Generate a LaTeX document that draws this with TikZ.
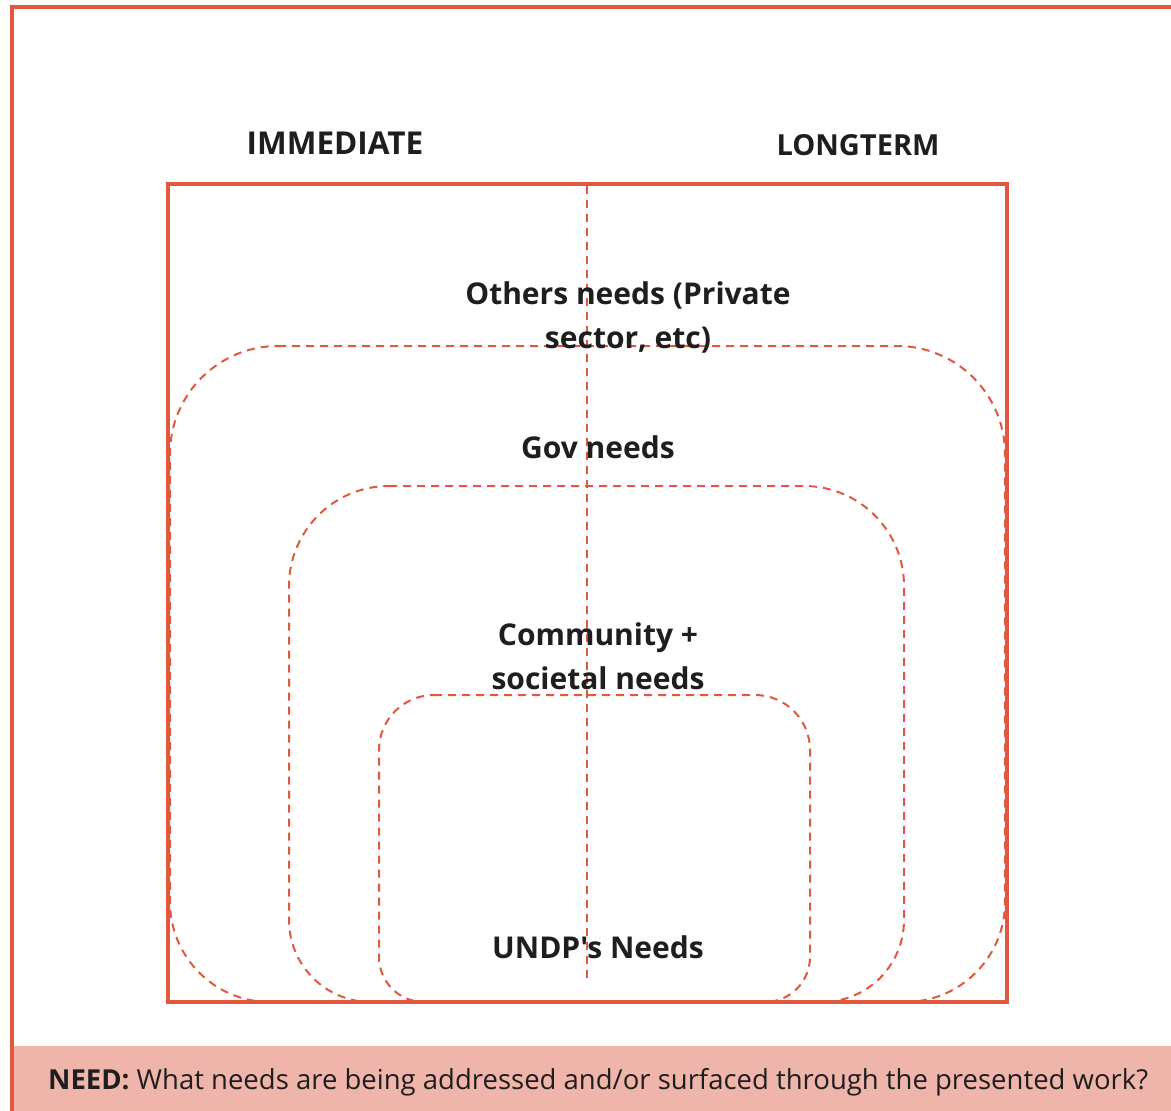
\documentclass[tikz,border=0pt]{standalone}
\usepackage{fontspec}
\setmainfont{Open Sans}[Ligatures=TeXOff]
\definecolor{undpred}{HTML}{E2583E}
\definecolor{bandpink}{HTML}{EFB5AA}
\definecolor{inkdark}{HTML}{1E1E1E}
\tikzset{
  frameline/.style={draw=undpred, line width=4pt},
  dashline/.style={draw=undpred, line width=2pt, dash pattern=on 8pt off 6pt},
  lbl/.style={text=inkdark, font=\fontsize{30}{44}\selectfont\bfseries, align=center, inner sep=0pt},
  banner/.style={text=inkdark, font=\fontsize{27.5}{30}\selectfont, anchor=west, inner sep=0pt}
}
\newcommand\needshape[6]{%
  ({#1+#5},#3) -- ({#2-#5},#3)
  .. controls ({#2-0.448*#5},#3) and (#2,{#3+0.448*#5}) .. (#2,{#3+#5})
  -- (#2,{#4-#6})
  .. controls (#2,{#4-0.448*#6}) and ({#2-0.448*#6},#4) .. ({#2-#6},#4)
  -- ({#1+#6},#4)
  .. controls ({#1+0.448*#6},#4) and (#1,{#4-0.448*#6}) .. (#1,{#4-#6})
  -- (#1,{#3+#5})
  .. controls (#1,{#3+0.448*#5}) and ({#1+0.448*#5},#3) .. cycle}
\begin{document}
\begin{tikzpicture}[x=1pt,y=-1pt]
\useasboundingbox (0,0) rectangle (1171,1111);
\fill[white] (0,0) rectangle (1171,1111);
% bottom band
\fill[bandpink] (12,1046) rectangle (1171,1111);
% outer frame (left and top)
\draw[frameline] (12,1111) -- (12,7) -- (1171,7);
% dashed nested shapes
\draw[dashline] \needshape{170}{1005}{346}{1002}{108}{100};
\draw[dashline] \needshape{289}{904}{486}{1002}{100}{82};
\draw[dashline] \needshape{379}{810}{695}{1002}{55}{45};
% vertical divider
\coordinate (divtop) at (587,186);
\coordinate (divbot) at (587,978);
\draw[dashline] (divtop) -- (divbot);
% main square
\draw[frameline] (168,184) rectangle (1007,1002);
% labels
\node[lbl, font=\fontsize{31.5}{44}\selectfont\bfseries] (imm) at (335,143) {IMMEDIATE};
\node[lbl, font=\fontsize{29}{44}\selectfont\bfseries] (long) at (858,145) {LONGTERM};
\node[lbl] (others) at (628,317) {Others needs (Private\\sector, etc)};
\node[lbl] (gov) at (598,447) {Gov needs};
\node[lbl] (comm) at (598,656) {Community +\\societal needs};
\node[lbl] (undp) at (598,947) {UNDP's Needs};
\node[banner] (need) at (48,1082) {\textbf{NEED:} What needs are being addressed and/or surfaced through the presented work?};
\end{tikzpicture}
\end{document}
